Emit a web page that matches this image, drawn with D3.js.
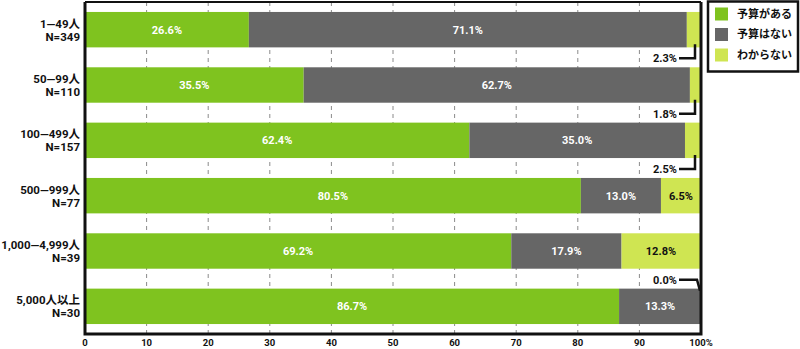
<!DOCTYPE html>
<html>
<head>
<meta charset="utf-8">
<script src="https://cdn.jsdelivr.net/npm/d3@7"></script>
<style>
  html, body { margin: 0; padding: 0; background: #fff; }
  svg { display: block; font-family: "Roboto", "Noto Sans CJK JP", sans-serif; }
</style>
</head>
<body>
<svg id="chart" width="800" height="349"></svg>
<script>
// Company-size groups (two-line labels) and sample sizes
const groups = ["1—49人", "50—99人", "100—499人", "500—999人", "1,000—4,999人", "5,000人以上"];
const sampleN = ["N=349", "N=110", "N=157", "N=77", "N=39", "N=30"];

// Series: share of respondents (%)
const seriesNames = ["予算がある", "予算はない", "わからない"];
const hasBudget = [26.6, 35.5, 62.4, 80.5, 69.2, 86.7];
const noBudget = [71.1, 62.7, 35.0, 13.0, 17.9, 13.3];
const unknown = [2.3, 1.8, 2.5, 6.5, 12.8, 0.0];

const xTicks = [0, 10, 20, 30, 40, 50, 60, 70, 80, 90, 100];

const colors = ["#7fc31f", "#666666", "#cfe552"];
const textColors = ["#ffffff", "#ffffff", "#111111"];

const svg = d3.select("#chart");
const plotLeft = 85, plotRight = 701, plotTop = 2, plotBottom = 334;

const x = d3.scaleLinear().domain([0, 100]).range([plotLeft, plotRight]);
const y = d3.scaleBand().domain(d3.range(groups.length)).range([plotTop, plotBottom]).paddingInner(0.36).paddingOuter(0.18);

const rows = groups.map((g, i) => [hasBudget[i], noBudget[i], unknown[i]]);

// Dashed vertical gridlines
svg.append("g")
  .selectAll("line")
  .data(xTicks.filter(t => t > 0 && t < 100))
  .join("line")
  .attr("x1", d => x(d)).attr("x2", d => x(d))
  .attr("y1", plotTop).attr("y2", plotBottom)
  .attr("stroke", "#8a8a8a")
  .attr("stroke-width", 1)
  .attr("stroke-dasharray", "4,4");

// Stacked bars
const barG = svg.append("g");
rows.forEach((vals, i) => {
  let acc = 0;
  vals.forEach((v, s) => {
    const x0 = acc, x1 = acc + v;
    acc = x1;
    if (v <= 0) return;
    barG.append("rect")
      .attr("x", x(x0))
      .attr("y", y(i))
      .attr("width", x(x1) - x(x0))
      .attr("height", y.bandwidth())
      .attr("fill", colors[s]);
    // value label inside wide segments
    if (v >= 5) {
      barG.append("text")
        .attr("x", (x(x0) + x(x1)) / 2)
        .attr("y", y(i) + y.bandwidth() / 2)
        .attr("dy", "0.36em")
        .attr("text-anchor", "middle")
        .attr("font-size", 11)
        .attr("font-weight", 700)
        .attr("fill", textColors[s])
        .text(v.toFixed(1) + "%");
    }
  });
});

// Callout labels for thin "わからない" segments
const calloutG = svg.append("g");
rows.forEach((vals, i) => {
  const v = vals[2];
  if (v >= 5) return;
  const below = i < groups.length - 1;
  const gapY = below
    ? y(i) + y.bandwidth() + (y.step() - y.bandwidth()) / 2 + 1
    : y(i) - (y.step() - y.bandwidth()) / 2 + 1;
  const lx = 679;
  let path;
  if (below) {
    path = `M${lx},${gapY} L${x(100) - 6},${gapY} L${x(100) - 6},${y(i) + y.bandwidth() - 3}`;
  } else {
    path = `M${lx},${gapY} L${x(100) - 4},${gapY} L${x(100) - 1},${y(i) + 2}`;
  }
  calloutG.append("path")
    .attr("d", path)
    .attr("fill", "none")
    .attr("stroke", "#111")
    .attr("stroke-width", 2.5);
  calloutG.append("text")
    .attr("x", lx - 2)
    .attr("y", gapY)
    .attr("dy", "0.36em")
    .attr("text-anchor", "end")
    .attr("font-size", 11)
    .attr("font-weight", 700)
    .attr("fill", "#111")
    .text(v.toFixed(1) + "%");
});

// Plot frame
svg.append("path")
  .attr("d", `M${plotLeft},${plotTop} L${plotRight},${plotTop}`)
  .attr("stroke", "#111").attr("stroke-width", 2);
svg.append("path")
  .attr("d", `M${plotLeft},${plotTop} L${plotLeft},${plotBottom} L${plotRight},${plotBottom} L${plotRight},${plotTop}`)
  .attr("fill", "none")
  .attr("stroke", "#111").attr("stroke-width", 3);

// Category labels
const labelG = svg.append("g");
groups.forEach((g, i) => {
  const cy = y(i) + y.bandwidth() / 2;
  const t = labelG.append("text")
    .attr("text-anchor", "end")
    .attr("font-size", 11.5)
    .attr("font-weight", 700)
    .attr("fill", "#111");
  t.append("tspan").attr("x", 80).attr("y", cy - 6).attr("dy", "0.36em").text(g);
  t.append("tspan").attr("x", 80).attr("y", cy + 7).attr("dy", "0.36em").text(sampleN[i]);
});

// X axis tick labels
svg.append("g")
  .selectAll("text")
  .data(xTicks)
  .join("text")
  .attr("x", d => x(d))
  .attr("y", 343)
  .attr("dy", "0.36em")
  .attr("text-anchor", "middle")
  .attr("font-size", 9.5)
  .attr("font-weight", 700)
  .attr("fill", "#111")
  .text(d => d === 100 ? "100%" : d);

// Legend
const lg = svg.append("g");
lg.append("rect")
  .attr("x", 708).attr("y", 1.5)
  .attr("width", 90).attr("height", 70)
  .attr("fill", "#fff").attr("stroke", "#111").attr("stroke-width", 2.5);
seriesNames.forEach((n, s) => {
  const cy = 14 + s * 20.5;
  lg.append("rect")
    .attr("x", 715).attr("y", cy - 6.5)
    .attr("width", 13).attr("height", 13)
    .attr("fill", colors[s]);
  lg.append("text")
    .attr("x", 737).attr("y", cy)
    .attr("dy", "0.36em")
    .attr("font-size", 11)
    .attr("font-weight", 700)
    .attr("fill", "#111")
    .text(n);
});
</script>
</body>
</html>
